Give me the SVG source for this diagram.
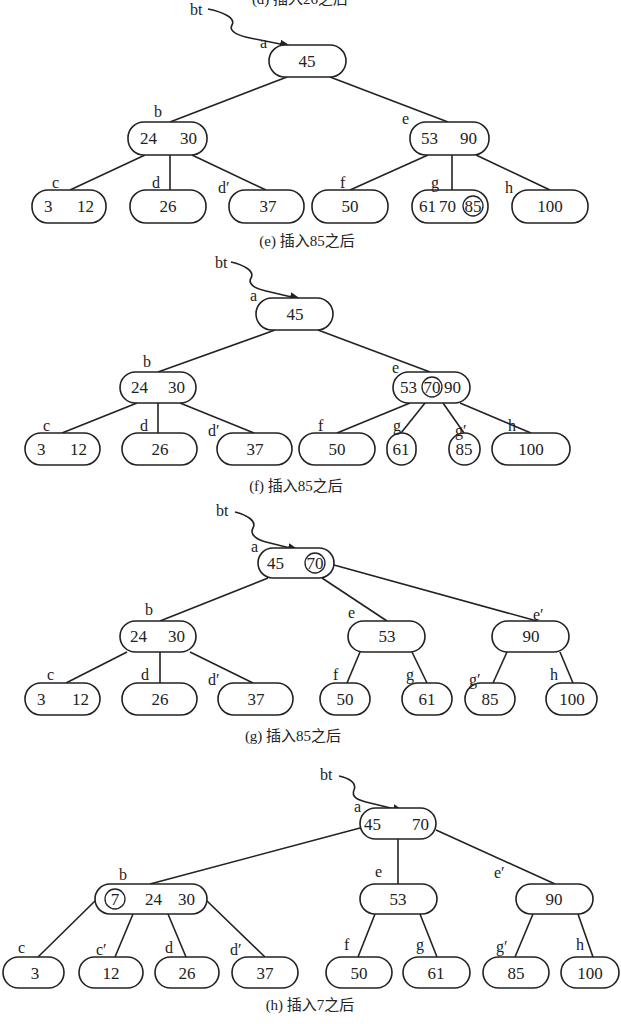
<svg xmlns="http://www.w3.org/2000/svg" width="621" height="1024" viewBox="0 0 621 1024">
<defs>
<style>
.n{fill:#fff;stroke:#222;stroke-width:1.6}
.k{fill:none;stroke:#222;stroke-width:1.3}
text{font-family:"Liberation Serif","Noto Sans CJK SC",serif;font-size:17px;fill:#222}
.t{text-anchor:middle}
.l{font-size:16px}
.c{font-size:15px;text-anchor:middle}
#conn line,#conn path{stroke:#222;stroke-width:1.6;fill:none}
</style>
<marker id="ar" viewBox="0 0 10 10" refX="9" refY="5" markerWidth="7" markerHeight="7" orient="auto"><path d="M0,1 L10,5 L0,9 Z" fill="#222"/></marker>
</defs>
<rect width="621" height="1024" fill="#fff"/>
<text class="c" x="300" y="4">(d) 插入26之后</text>
<g id="conn">
<path d="M208,9 c15,3 28,9 24,16 c-4,7 8,11 18,13 L290,46" marker-end="url(#ar)"/>
<line x1="287" y1="77" x2="170" y2="122"/><line x1="330" y1="77" x2="448" y2="122"/>
<line x1="145" y1="155" x2="70" y2="190"/><line x1="170" y1="155" x2="170" y2="190"/><line x1="192" y1="155" x2="266" y2="190"/>
<line x1="428" y1="155" x2="350" y2="190"/><line x1="452" y1="155" x2="452" y2="190"/><line x1="476" y1="155" x2="550" y2="190"/>
<path d="M231,262 c13,3 24,9 20,16 c-4,7 6,11 15,13 L300,299" marker-end="url(#ar)"/>
<line x1="275" y1="330" x2="158" y2="372"/><line x1="318" y1="330" x2="430" y2="372"/>
<line x1="137" y1="403" x2="62" y2="433"/><line x1="158" y1="403" x2="158" y2="433"/><line x1="180" y1="403" x2="254" y2="433"/>
<line x1="410" y1="403" x2="337" y2="433"/><line x1="425" y1="403" x2="401" y2="433"/><line x1="443" y1="403" x2="464" y2="433"/><line x1="460" y1="403" x2="531" y2="433"/>
<path d="M235,512 c12,3 22,9 18,16 c-4,7 5,12 13,14 L298,550" marker-end="url(#ar)"/>
<line x1="268" y1="578" x2="160" y2="621"/><line x1="322" y1="578" x2="387" y2="621"/><line x1="334" y1="565" x2="537" y2="621"/>
<line x1="127" y1="652" x2="66" y2="683"/><line x1="160" y1="652" x2="160" y2="683"/><line x1="190" y1="652" x2="253" y2="683"/>
<line x1="360" y1="652" x2="347" y2="683"/><line x1="412" y1="652" x2="427" y2="683"/>
<line x1="507" y1="652" x2="493" y2="683"/><line x1="560" y1="652" x2="573" y2="683"/>
<path d="M339,776 c10,2 18,7 15,14 c-3,7 4,10 12,12 L403,811" marker-end="url(#ar)"/>
<line x1="360" y1="828" x2="150" y2="884"/><line x1="398" y1="839" x2="398" y2="884"/><line x1="436" y1="830" x2="555" y2="884"/>
<line x1="96" y1="900" x2="38" y2="957"/><line x1="133" y1="914" x2="115" y2="957"/><line x1="168" y1="914" x2="186" y2="957"/><line x1="206" y1="900" x2="265" y2="957"/>
<line x1="375" y1="914" x2="358" y2="957"/><line x1="420" y1="914" x2="437" y2="957"/>
<line x1="533" y1="914" x2="515" y2="957"/><line x1="578" y1="914" x2="593" y2="957"/>
</g>
<g id="e-bt"><text class="l" x="190" y="15">bt</text></g>
<g id="e-a"><rect class="n" x="269" y="45" width="77" height="32" rx="16"/><text class="t" x="307" y="67">45</text><text class="l" x="260" y="48">a</text></g>
<g id="e-b"><rect class="n" x="128" y="122" width="79" height="33" rx="16"/><text x="140" y="144">24</text><text x="180" y="144">30</text><text class="l" x="154" y="117">b</text></g>
<g id="e-e"><rect class="n" x="410" y="122" width="79" height="33" rx="16"/><text x="421" y="144">53</text><text x="460" y="144">90</text><text class="l" x="402" y="124">e</text></g>
<g id="e-c"><rect class="n" x="32" y="190" width="74" height="33" rx="16"/><text x="44" y="212">3</text><text x="77" y="212">12</text><text class="l" x="52" y="188">c</text></g>
<g id="e-d"><rect class="n" x="130" y="190" width="76" height="33" rx="16"/><text class="t" x="168" y="212">26</text><text class="l" x="152" y="188">d</text></g>
<g id="e-d2"><rect class="n" x="229" y="190" width="75" height="33" rx="16"/><text class="t" x="268" y="212">37</text><text class="l" x="218" y="193">d′</text></g>
<g id="e-f"><rect class="n" x="312" y="190" width="76" height="33" rx="16"/><text class="t" x="350" y="212">50</text><text class="l" x="340" y="188">f</text></g>
<g id="e-g"><rect class="n" x="412" y="190" width="76" height="33" rx="16"/><text x="419" y="212">61</text><text x="439" y="212">70</text><circle class="k" cx="473" cy="206" r="10"/><text class="t" x="473" y="212">85</text><text class="l" x="431" y="188">g</text></g>
<g id="e-h"><rect class="n" x="512" y="190" width="76" height="33" rx="16"/><text class="t" x="550" y="212">100</text><text class="l" x="505" y="193">h</text></g>
<text class="c" x="307" y="246">(e) 插入85之后</text>
<g id="f-bt"><text class="l" x="215" y="268">bt</text></g>
<g id="f-a"><rect class="n" x="256" y="298" width="77" height="32" rx="16"/><text class="t" x="295" y="320">45</text><text class="l" x="250" y="301">a</text></g>
<g id="f-b"><rect class="n" x="120" y="372" width="76" height="31" rx="15.5"/><text x="131" y="393">24</text><text x="168" y="393">30</text><text class="l" x="143" y="367">b</text></g>
<g id="f-e"><rect class="n" x="393" y="372" width="77" height="31" rx="15.5"/><text x="400" y="393">53</text><circle class="k" cx="432" cy="387" r="10"/><text class="t" x="432" y="393">70</text><text x="444" y="393">90</text><text class="l" x="392" y="373">e</text></g>
<g id="f-c"><rect class="n" x="25" y="433" width="75" height="32" rx="16"/><text x="37" y="455">3</text><text x="70" y="455">12</text><text class="l" x="43" y="431">c</text></g>
<g id="f-d"><rect class="n" x="122" y="433" width="75" height="32" rx="16"/><text class="t" x="160" y="455">26</text><text class="l" x="140" y="431">d</text></g>
<g id="f-d2"><rect class="n" x="217" y="433" width="75" height="32" rx="16"/><text class="t" x="255" y="455">37</text><text class="l" x="208" y="436">d′</text></g>
<g id="f-f"><rect class="n" x="299" y="433" width="76" height="32" rx="16"/><text class="t" x="337" y="455">50</text><text class="l" x="318" y="431">f</text></g>
<g id="f-g"><rect class="n" x="387" y="433" width="29" height="32" rx="14.5"/><text class="t" x="401" y="455">61</text><text class="l" x="393" y="431">g</text></g>
<g id="f-g2"><rect class="n" x="449" y="433" width="31" height="32" rx="15.5"/><text class="t" x="464" y="455">85</text><text class="l" x="455" y="436">g′</text></g>
<g id="f-h"><rect class="n" x="492" y="433" width="78" height="32" rx="16"/><text class="t" x="531" y="455">100</text><text class="l" x="508" y="431">h</text></g>
<text class="c" x="296" y="491">(f) 插入85之后</text>
<g id="g-bt"><text class="l" x="216" y="516">bt</text></g>
<g id="g-a"><rect class="n" x="258" y="548" width="76" height="30" rx="15"/><text x="267" y="569">45</text><circle class="k" cx="315" cy="563" r="10"/><text class="t" x="315" y="569">70</text><text class="l" x="251" y="552">a</text></g>
<g id="g-b"><rect class="n" x="120" y="621" width="76" height="31" rx="15.5"/><text x="130" y="642">24</text><text x="168" y="642">30</text><text class="l" x="145" y="615">b</text></g>
<g id="g-e"><rect class="n" x="348" y="621" width="77" height="31" rx="15.5"/><text class="t" x="387" y="642">53</text><text class="l" x="348" y="618">e</text></g>
<g id="g-e2"><rect class="n" x="492" y="621" width="77" height="31" rx="15.5"/><text class="t" x="531" y="642">90</text><text class="l" x="533" y="620">e′</text></g>
<g id="g-c"><rect class="n" x="25" y="683" width="75" height="32" rx="16"/><text x="37" y="705">3</text><text x="72" y="705">12</text><text class="l" x="47" y="680">c</text></g>
<g id="g-d"><rect class="n" x="122" y="683" width="75" height="32" rx="16"/><text class="t" x="160" y="705">26</text><text class="l" x="141" y="680">d</text></g>
<g id="g-d2"><rect class="n" x="218" y="683" width="75" height="32" rx="16"/><text class="t" x="256" y="705">37</text><text class="l" x="208" y="685">d′</text></g>
<g id="g-f"><rect class="n" x="320" y="683" width="50" height="32" rx="16"/><text class="t" x="345" y="705">50</text><text class="l" x="333" y="680">f</text></g>
<g id="g-g"><rect class="n" x="402" y="683" width="50" height="32" rx="16"/><text class="t" x="427" y="705">61</text><text class="l" x="406" y="680">g</text></g>
<g id="g-g2"><rect class="n" x="465" y="683" width="50" height="32" rx="16"/><text class="t" x="490" y="705">85</text><text class="l" x="469" y="685">g′</text></g>
<g id="g-h"><rect class="n" x="546" y="683" width="51" height="32" rx="16"/><text class="t" x="572" y="705">100</text><text class="l" x="550" y="680">h</text></g>
<text class="c" x="293" y="741">(g) 插入85之后</text>
<g id="h-bt"><text class="l" x="320" y="780">bt</text></g>
<g id="h-a"><rect class="n" x="360" y="808" width="76" height="31" rx="15.5"/><text x="364" y="830">45</text><text x="412" y="830">70</text><text class="l" x="354" y="812">a</text></g>
<g id="h-b"><rect class="n" x="95" y="884" width="112" height="30" rx="15"/><circle class="k" cx="115" cy="899" r="10"/><text class="t" x="115" y="905">7</text><text x="145" y="905">24</text><text x="178" y="905">30</text><text class="l" x="119" y="880">b</text></g>
<g id="h-e"><rect class="n" x="360" y="884" width="77" height="30" rx="15"/><text class="t" x="398" y="905">53</text><text class="l" x="375" y="877">e</text></g>
<g id="h-e2"><rect class="n" x="516" y="884" width="77" height="30" rx="15"/><text class="t" x="554" y="905">90</text><text class="l" x="494" y="878">e′</text></g>
<g id="h-c"><rect class="n" x="3" y="957" width="61" height="31" rx="15.5"/><text class="t" x="35" y="979">3</text><text class="l" x="18" y="953">c</text></g>
<g id="h-c2"><rect class="n" x="79" y="957" width="64" height="31" rx="15.5"/><text class="t" x="111" y="979">12</text><text class="l" x="96" y="955">c′</text></g>
<g id="h-d"><rect class="n" x="155" y="957" width="64" height="31" rx="15.5"/><text class="t" x="187" y="979">26</text><text class="l" x="165" y="953">d</text></g>
<g id="h-d2"><rect class="n" x="232" y="957" width="66" height="31" rx="15.5"/><text class="t" x="265" y="979">37</text><text class="l" x="230" y="955">d′</text></g>
<g id="h-f"><rect class="n" x="326" y="957" width="66" height="31" rx="15.5"/><text class="t" x="359" y="979">50</text><text class="l" x="344" y="950">f</text></g>
<g id="h-g"><rect class="n" x="403" y="957" width="67" height="31" rx="15.5"/><text class="t" x="436" y="979">61</text><text class="l" x="416" y="950">g</text></g>
<g id="h-g2"><rect class="n" x="483" y="957" width="66" height="31" rx="15.5"/><text class="t" x="516" y="979">85</text><text class="l" x="496" y="952">g′</text></g>
<g id="h-h"><rect class="n" x="561" y="957" width="58" height="31" rx="15.5"/><text class="t" x="590" y="979">100</text><text class="l" x="576" y="950">h</text></g>
<text class="c" x="310" y="1010">(h) 插入7之后</text>
</svg>
